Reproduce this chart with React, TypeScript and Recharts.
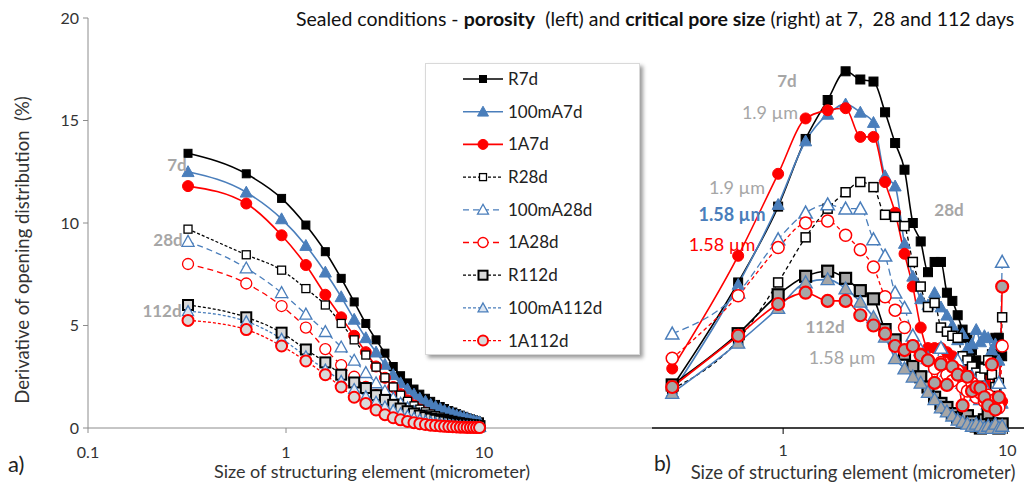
import React from 'react';
import { LineChart, Line, XAxis, YAxis, Legend } from 'recharts';

// structuring element sizes (µm), one voxel = 0.316 µm
const sizes = [
  0.32, 0.63, 0.95, 1.26, 1.58, 1.9, 2.21, 2.53, 2.85, 3.16, 3.48, 3.79, 4.11, 4.43, 4.74,
  5.06, 5.38, 5.69, 6.01, 6.32, 6.64, 6.96, 7.27, 7.59, 7.91, 8.22, 8.54, 8.85, 9.17, 9.49,
];

const seriesNames = ['R7d', '100mA7d', '1A7d', 'R28d', '100mA28d', '1A28d', 'R112d', '100mA112d', '1A112d'];

// a) porosity
const porR7d = [13.4, 12.4, 11.2, 9.9, 8.6, 7.3, 6.15, 5.1, 4.3, 3.65, 3.0, 2.55, 2.2, 1.9, 1.65, 1.45, 1.3, 1.15, 1.05, 0.95, 0.85, 0.78, 0.7, 0.63, 0.57, 0.5, 0.45, 0.4, 0.35, 0.3];
const por100mA7d = [12.5, 11.5, 10.2, 8.9, 7.6, 6.4, 5.3, 4.4, 3.7, 3.1, 2.6, 2.2, 1.9, 1.65, 1.45, 1.3, 1.15, 1.05, 0.95, 0.85, 0.78, 0.7, 0.63, 0.57, 0.52, 0.47, 0.42, 0.37, 0.33, 0.3];
const por1A7d = [11.8, 10.95, 9.4, 7.95, 6.5, 5.4, 4.5, 3.7, 3.0, 2.45, 2.0, 1.65, 1.35, 1.1, 0.9, 0.75, 0.62, 0.52, 0.44, 0.37, 0.31, 0.26, 0.22, 0.19, 0.16, 0.14, 0.12, 0.1, 0.09, 0.08];
const porR28d = [9.7, 8.45, 7.7, 6.8, 6.0, 5.1, 4.3, 3.56, 2.97, 2.45, 2.0, 1.6, 1.3, 1.08, 0.92, 0.79, 0.68, 0.6, 0.53, 0.47, 0.42, 0.37, 0.33, 0.3, 0.27, 0.24, 0.22, 0.2, 0.18, 0.16];
const por100mA28d = [9.1, 7.8, 6.6, 5.55, 4.7, 3.95, 3.3, 2.7, 2.2, 1.8, 1.45, 1.2, 0.98, 0.8, 0.66, 0.55, 0.46, 0.39, 0.33, 0.28, 0.24, 0.2, 0.17, 0.15, 0.13, 0.11, 0.1, 0.09, 0.08, 0.07];
const por1A28d = [8.0, 7.05, 5.95, 4.9, 3.85, 3.07, 2.5, 2.0, 1.6, 1.3, 1.05, 0.85, 0.7, 0.58, 0.48, 0.4, 0.33, 0.28, 0.23, 0.2, 0.17, 0.14, 0.12, 0.1, 0.09, 0.08, 0.07, 0.06, 0.05, 0.05];
const porR112d = [6.0, 5.4, 4.65, 3.83, 3.2, 2.6, 2.22, 1.95, 1.6, 1.37, 1.13, 0.95, 0.82, 0.71, 0.61, 0.53, 0.46, 0.4, 0.35, 0.31, 0.27, 0.24, 0.21, 0.19, 0.17, 0.15, 0.13, 0.12, 0.1, 0.09];
const por100mA112d = [5.7, 5.2, 4.35, 3.5, 2.85, 2.3, 1.9, 1.55, 1.28, 1.05, 0.87, 0.72, 0.6, 0.5, 0.42, 0.35, 0.3, 0.25, 0.21, 0.18, 0.15, 0.13, 0.11, 0.1, 0.09, 0.08, 0.07, 0.06, 0.05, 0.05];
const por1A112d = [5.25, 4.8, 4.0, 3.27, 2.6, 2.0, 1.5, 1.2, 0.88, 0.65, 0.5, 0.4, 0.32, 0.26, 0.21, 0.17, 0.14, 0.12, 0.1, 0.08, 0.07, 0.06, 0.05, 0.04, 0.04, 0.03, 0.03, 0.03, 0.02, 0.02];

// b) critical pore size
const cpsR7d = [2.0, 7.1, 10.8, 14.1, 16.0, 17.4, 17.0, 16.9, 15.4, 13.9, 12.6, 10.0, 9.1, 7.6, 8.1, 8.1, 6.6, 6.2, 5.5, 4.8, 4.4, 3.8, 3.3, 3.0, 2.7, 2.9, 3.6, 4.4, 4.4, 3.5];
const cps100mA7d = [1.75, 7.0, 10.9, 14.0, 15.3, 15.8, 15.4, 14.9, 12.3, 11.8, 9.0, 7.4, 6.3, 6.0, 6.6, 5.9, 5.5, 5.0, 4.3, 4.6, 3.9, 4.1, 4.8, 4.2, 4.5, 4.4, 3.8, 4.1, 3.3, 1.2];
const cps1A7d = [2.9, 8.4, 12.4, 15.1, 15.5, 15.6, 14.2, 14.2, 12.0, 10.5, 8.5, 6.9, 4.9, 3.9, 3.9, 3.9, 3.7, 3.5, 3.2, 2.9, 2.6, 2.4, 2.2, 2.1, 2.3, 2.0, 1.7, 1.5, 1.4, 1.3];
const cpsR28d = [1.9, 4.3, 7.1, 9.3, 10.7, 11.5, 12.0, 11.75, 10.4, 10.3, 9.85, 8.1, 6.9, 5.9, 6.1, 4.9, 4.7, 4.5, 4.4, 3.5, 3.3, 3.0, 2.7, 2.5, 2.9, 3.3, 2.6, 2.0, 2.2, 5.4];
const cps100mA28d = [4.6, 6.6, 9.2, 10.5, 10.9, 10.7, 10.7, 9.2, 8.4, 6.6, 5.85, 4.5, 3.8, 3.4, 3.0, 3.9, 2.8, 2.4, 3.3, 2.2, 1.9, 2.5, 1.6, 1.4, 2.0, 1.2, 1.5, 1.0, 2.2, 8.1];
const cps1A28d = [3.4, 6.45, 8.8, 10.0, 10.1, 9.4, 8.7, 7.85, 6.4, 5.75, 4.9, 4.0, 3.6, 3.3, 2.9, 3.2, 2.6, 2.3, 2.8, 2.0, 1.8, 2.2, 1.5, 1.7, 1.3, 1.6, 1.1, 1.4, 1.0, 4.0];
const cpsR112d = [2.1, 4.6, 6.5, 7.4, 7.65, 7.3, 6.7, 6.3, 4.8, 4.3, 3.6, 3.0, 2.5, 2.0, 1.5, 1.2, 1.0, 0.7, 0.5, 0.4, 0.6, 0.3, 0.1, 0.0, 0.4, 0.7, 0.2, 0.1, 0.0, 0.2];
const cps100mA112d = [1.7, 4.15, 5.85, 7.1, 7.25, 6.8, 6.15, 5.4, 4.45, 3.4, 2.9, 2.5, 2.2, 1.75, 1.4, 1.0, 0.8, 0.6, 0.4, 0.3, 0.2, 0.1, 0.2, 0.1, 0.0, 0.1, 0.0, 0.2, 0.0, 0.1];
const cps1A112d = [2.0, 4.5, 6.05, 6.6, 6.2, 6.2, 5.5, 5.0, 4.6, 4.0, 3.8, 4.0, 3.55, 3.3, 2.2, 3.1, 2.1, 3.0, 2.6, 1.1, 2.5, 1.8, 2.0, 1.95, 1.5, 1.1, 3.1, 0.9, 1.5, 6.9];

const yTicks = [0, 5, 10, 15, 20];
const xTicksA = [0.1, 1, 10];
const xTicksB = [1, 10];

const porosity = [porR7d, por100mA7d, por1A7d, porR28d, por100mA28d, por1A28d, porR112d, por100mA112d, por1A112d];
const poreSize = [cpsR7d, cps100mA7d, cps1A7d, cpsR28d, cps100mA28d, cps1A28d, cpsR112d, cps100mA112d, cps1A112d];

const toRows = (cols: number[][]) =>
  sizes.map((x, i) => {
    const row: Record<string, number> = { x };
    seriesNames.forEach((n, k) => (row[n] = cols[k][i]));
    return row;
  });

const rowsA = toRows(porosity);
const rowsB = toRows(poreSize);

const BLUE = '#4A7EBB';
const RED = '#FF0000';
const GREY = '#A6A6A6';
const FONT = 'Lato, "Open Sans", sans-serif';

type Mk = { shape: 'sq' | 'tri' | 'ci'; size: number; fill: string; stroke: string; sw: number };
type Sty = { color: string; dash?: string; width: number; mk: Mk };

const Marker = ({ cx, cy, mk }: { cx: number; cy: number; mk: Mk }) => {
  const h = mk.size / 2;
  if (mk.shape === 'sq')
    return <rect x={cx - h} y={cy - h} width={mk.size} height={mk.size} fill={mk.fill} stroke={mk.stroke} strokeWidth={mk.sw} />;
  if (mk.shape === 'ci')
    return <circle cx={cx} cy={cy} r={h} fill={mk.fill} stroke={mk.stroke} strokeWidth={mk.sw} />;
  const r = h * 1.1;
  return (
    <polygon
      points={`${cx},${cy - r} ${cx + r},${cy + r * 0.8} ${cx - r},${cy + r * 0.8}`}
      fill={mk.fill}
      stroke={mk.stroke}
      strokeWidth={mk.sw}
      strokeLinejoin="miter"
    />
  );
};

// panel a styles, also used by the legend
const stylesA: Sty[] = [
  { color: '#000', width: 1.6, mk: { shape: 'sq', size: 8, fill: '#000', stroke: '#000', sw: 1 } },
  { color: BLUE, width: 1.6, mk: { shape: 'tri', size: 11, fill: BLUE, stroke: BLUE, sw: 1 } },
  { color: RED, width: 1.6, mk: { shape: 'ci', size: 11, fill: RED, stroke: RED, sw: 1 } },
  { color: '#000', dash: '3 2', width: 1.3, mk: { shape: 'sq', size: 8, fill: '#fff', stroke: '#000', sw: 1.3 } },
  { color: BLUE, dash: '6 4', width: 1.3, mk: { shape: 'tri', size: 11, fill: '#fff', stroke: BLUE, sw: 1.3 } },
  { color: RED, dash: '6 4', width: 1.3, mk: { shape: 'ci', size: 11, fill: '#fff', stroke: RED, sw: 1.3 } },
  { color: '#000', dash: '3 2', width: 1.3, mk: { shape: 'sq', size: 10, fill: '#D9D9D9', stroke: '#000', sw: 2 } },
  { color: BLUE, dash: '3 2', width: 1.3, mk: { shape: 'tri', size: 10, fill: '#DCE6F2', stroke: BLUE, sw: 1.3 } },
  { color: RED, dash: '3 2', width: 1.3, mk: { shape: 'ci', size: 11, fill: '#D9D9D9', stroke: RED, sw: 2 } },
];

// panel b: 28d dashed, 112d solid with grey markers
const stylesB: Sty[] = [
  { color: '#000', width: 1.6, mk: { shape: 'sq', size: 9, fill: '#000', stroke: '#000', sw: 1 } },
  { color: BLUE, width: 1.6, mk: { shape: 'tri', size: 11, fill: BLUE, stroke: BLUE, sw: 1 } },
  { color: RED, width: 1.6, mk: { shape: 'ci', size: 11, fill: RED, stroke: RED, sw: 1 } },
  { color: '#000', dash: '4 3', width: 1.3, mk: { shape: 'sq', size: 9, fill: '#fff', stroke: '#000', sw: 1.5 } },
  { color: BLUE, dash: '7 4', width: 1.3, mk: { shape: 'tri', size: 12, fill: '#fff', stroke: BLUE, sw: 1.5 } },
  { color: RED, dash: '4 3', width: 1.3, mk: { shape: 'ci', size: 12, fill: '#fff', stroke: RED, sw: 1.5 } },
  { color: '#000', width: 1.6, mk: { shape: 'sq', size: 11, fill: GREY, stroke: '#000', sw: 2.2 } },
  { color: BLUE, width: 1.6, mk: { shape: 'tri', size: 12, fill: GREY, stroke: BLUE, sw: 1.3 } },
  { color: RED, width: 1.6, mk: { shape: 'ci', size: 12, fill: GREY, stroke: RED, sw: 2.2 } },
];

const renderLines = (styles: Sty[]) =>
  seriesNames.map((name, k) => {
    const s = styles[k];
    return (
      <Line
        key={name}
        dataKey={name}
        name={name}
        type="monotone"
        stroke={s.color}
        strokeWidth={s.width}
        strokeDasharray={s.dash}
        dot={(p: any) => <Marker key={`${name}-${p.index}`} cx={p.cx} cy={p.cy} mk={s.mk} />}
        activeDot={false}
        isAnimationActive={false}
      />
    );
  });

const LegendBox = () => (
  <div
    style={{
      width: 215,
      height: 292,
      background: '#fff',
      border: '1px solid #D9D9D9',
      boxShadow: '3px 3px 4px rgba(0,0,0,0.4)',
      boxSizing: 'border-box',
    }}
  >
    <svg width={213} height={290}>
      {seriesNames.map((name, k) => {
        const s = stylesA[k];
        const y = 15 + k * 32.7;
        return (
          <g key={name}>
            <line x1={37} x2={77} y1={y} y2={y} stroke={s.color} strokeWidth={s.width} strokeDasharray={s.dash} />
            <Marker cx={57} cy={y} mk={{ ...s.mk, size: s.mk.size - 1 }} />
            <text x={82} y={y} dy="0.35em" fontSize={17} fill="#222" fontFamily={FONT}>
              {name}
            </text>
          </g>
        );
      })}
    </svg>
  </div>
);

const tickStyle = { fontSize: 16, fill: '#333', fontFamily: FONT };

export default function App() {
  return (
    <div style={{ position: 'absolute', left: 0, top: 0, width: 1024, height: 485, background: '#fff', overflow: 'hidden' }}>
      {/* a) porosity */}
      <div style={{ position: 'absolute', left: 0, top: 0 }}>
        <LineChart width={700} height={485} data={rowsA} margin={{ top: 18, right: 18, bottom: 27, left: 48 }}>
          <XAxis
            dataKey="x"
            type="number"
            scale="log"
            domain={[0.1, 100]}
            ticks={xTicksA}
            allowDataOverflow
            height={30}
            tick={tickStyle}
            tickSize={5}
            tickMargin={14}
            stroke="#8C8C8C"
          />
          <YAxis
            type="number"
            domain={[0, 20]}
            ticks={yTicks}
            width={40}
            tick={tickStyle}
            tickSize={5}
            tickMargin={4}
            stroke="#8C8C8C"
          />
          <Legend
            layout="vertical"
            verticalAlign="middle"
            align="center"
            content={() => <LegendBox />}
            wrapperStyle={{ left: 425, top: 63, width: 215, height: 292 }}
          />
          {renderLines(stylesA)}
        </LineChart>
      </div>

      {/* b) critical pore size, left part of its axis cut off */}
      <div style={{ position: 'absolute', left: 652, top: 0, width: 372, height: 485, overflow: 'hidden', background: '#fff' }}>
        <div style={{ position: 'absolute', left: -93, top: 0 }}>
          <LineChart width={466} height={485} data={rowsB} margin={{ top: 18, right: 0, bottom: 27, left: 0 }}>
            <XAxis
              dataKey="x"
              type="number"
              scale="log"
              domain={[0.1, 12]}
              ticks={xTicksB}
              allowDataOverflow
              height={30}
              tick={tickStyle}
              tickSize={6}
              tickMargin={11}
              axisLine={{ stroke: '#000', strokeWidth: 1.5 }}
              tickLine={{ stroke: '#000' }}
            />
            <YAxis type="number" domain={[0, 20]} hide width={0} />
            {renderLines(stylesB)}
          </LineChart>
        </div>
      </div>

      <svg width={1024} height={485} style={{ position: 'absolute', left: 0, top: 0, pointerEvents: 'none' }} fontFamily={FONT}>
        <text x={296} y={26} fontSize={19.5} fill="#111">
          Sealed conditions - <tspan fontWeight="bold">porosity</tspan> {'\u00a0'}(left) and{' '}
          <tspan fontWeight="bold">critical pore size</tspan> (right) at 7, {'\u00a0'}28 and 112 days
        </text>

        <text transform="translate(23,250) rotate(-90)" textAnchor="middle" dy="0.35em" fontSize={18.5} fill="#333">
          Derivative of opening distribution {'\u00a0'}(%)
        </text>
        <text x={372} y={472} textAnchor="middle" dy="0.35em" fontSize={18} fill="#333">
          Size of structuring element (micrometer)
        </text>
        <text x={853} y={473} textAnchor="middle" dy="0.35em" fontSize={18.5} fill="#333">
          Size of structuring element (micrometer)
        </text>
        <text x={8} y={464} dy="0.35em" fontSize={22} fill="#222">a)</text>
        <text x={654} y={464} dy="0.35em" fontSize={21} fill="#222">b)</text>

        <g fontWeight="bold" fill={GREY} fontSize={17}>
          <text x={177} y={165} textAnchor="middle" dy="0.35em">7d</text>
          <text x={168} y={240} textAnchor="middle" dy="0.35em">28d</text>
          <text x={162} y={311} textAnchor="middle" dy="0.35em">112d</text>
          <text x={787} y={81} textAnchor="middle" dy="0.35em">7d</text>
          <text x={949} y={210} textAnchor="middle" dy="0.35em">28d</text>
          <text x={825} y={327} textAnchor="middle" dy="0.35em">112d</text>
        </g>
        <g fontSize={18}>
          <text x={770} y={113} textAnchor="middle" dy="0.35em" fill={GREY}>1.9 µm</text>
          <text x={737} y={188} textAnchor="middle" dy="0.35em" fill={GREY}>1.9 µm</text>
          <text x={732} y={215} textAnchor="middle" dy="0.35em" fill={BLUE} fontWeight="bold">1.58 µm</text>
          <text x={722} y={245} textAnchor="middle" dy="0.35em" fill={RED}>1.58 µm</text>
          <text x={842} y={358} textAnchor="middle" dy="0.35em" fill={GREY}>1.58 µm</text>
        </g>
      </svg>
    </div>
  );
}
